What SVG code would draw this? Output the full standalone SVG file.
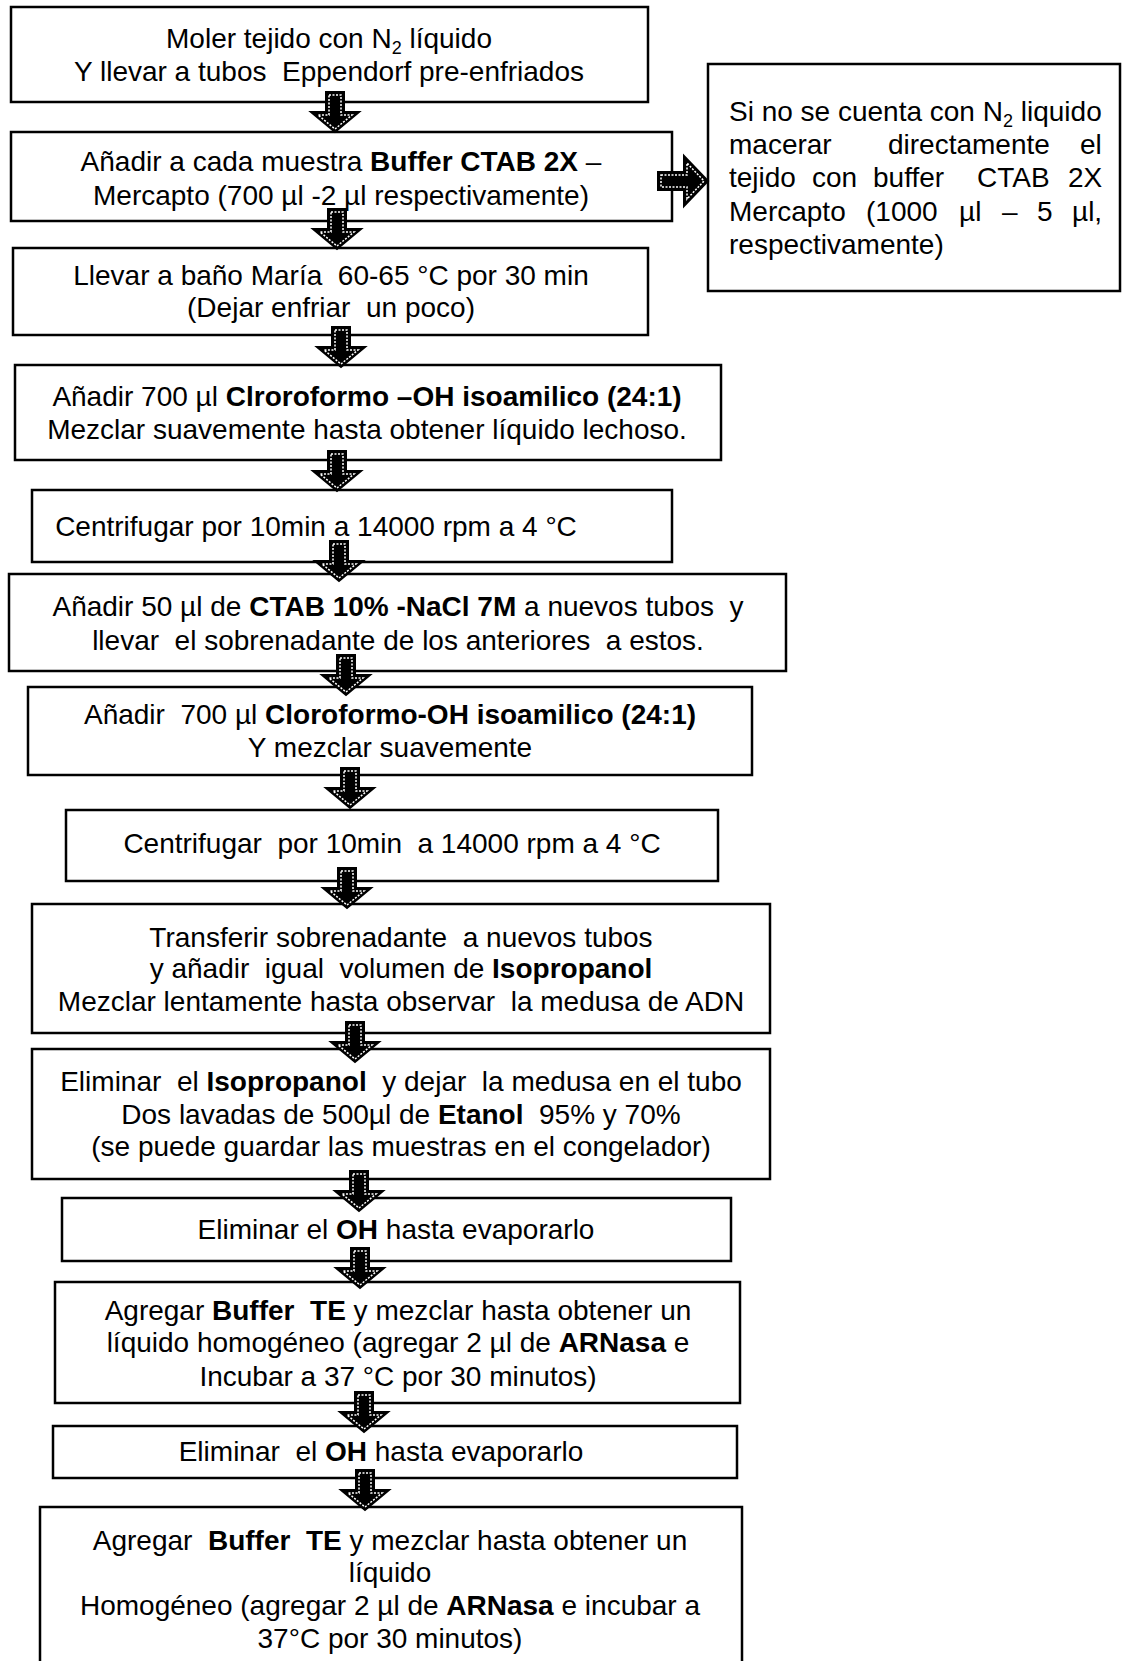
<svg xmlns="http://www.w3.org/2000/svg" width="1122" height="1661" viewBox="0 0 1122 1661">
<style>
  .box { fill: #ffffff; stroke: #000000; stroke-width: 2.5; }
  .t { font-family: "Liberation Sans", Arial, sans-serif; font-size: 28px; fill: #000000; text-anchor: middle; white-space: pre; }
  .s { font-family: "Liberation Sans", Arial, sans-serif; font-size: 28px; fill: #000000; white-space: pre; }
  .b { font-weight: bold; }
  .arw { fill: #000000; stroke: #000000; stroke-width: 2; stroke-linejoin: miter; }
  .arwi { fill: none; stroke: #ffffff; stroke-width: 1.5; stroke-dasharray: 2 1.5; }
</style>
<defs>
  <g id="dn">
    <polygon class="arw" points="-9,0 9,0 9,20 24,20 0,40 -24,20 -9,20"/>
    <polygon class="arwi" points="-6,3 6,3 6,23 17,23 0,37 -17,23 -6,23"/>
  </g>
  <g id="rt">
    <polygon class="arw" points="0,-9 26,-9 26,-25 50,0 26,25 26,9 0,9"/>
    <polygon class="arwi" points="3,-6 29,-6 29,-18 46,0 29,18 29,6 3,6"/>
  </g>
</defs>
<rect width="1122" height="1661" fill="#ffffff"/>

<g id="n1">
  <rect class="box" x="11" y="7" width="637" height="95"/>
  <text class="t" x="329" y="48">Moler tejido con N<tspan font-size="18" dy="6">2</tspan><tspan dy="-6"> líquido</tspan></text>
  <text class="t" x="329" y="81" xml:space="preserve">Y llevar a tubos  Eppendorf pre-enfriados</text>
</g>
<g id="n2">
  <rect class="box" x="11" y="132" width="661" height="89"/>
  <text class="t" x="341" y="171">Añadir a cada muestra <tspan class="b">Buffer CTAB 2X</tspan> –</text>
  <text class="t" x="341" y="205">Mercapto (700 µl -2 µl respectivamente)</text>
</g>
<g id="side">
  <rect class="box" x="708" y="64" width="412" height="227"/>
  <text class="s" x="729" y="121">Si no se cuenta con N<tspan font-size="18" dy="6">2</tspan><tspan dy="-6"> liquido</tspan></text>
  <text class="s" y="154"><tspan x="729">macerar</tspan><tspan x="888">directamente</tspan><tspan x="1080">el</tspan></text>
  <text class="s" y="187"><tspan x="729">tejido</tspan><tspan x="812">con</tspan><tspan x="873">buffer</tspan><tspan x="977">CTAB</tspan><tspan x="1068">2X</tspan></text>
  <text class="s" y="221"><tspan x="729">Mercapto</tspan><tspan x="866">(1000</tspan><tspan x="959">µl</tspan><tspan x="1002">–</tspan><tspan x="1037">5</tspan><tspan x="1072">µl,</tspan></text>
  <text class="s" x="729" y="254">respectivamente)</text>
</g>
<g id="n3">
  <rect class="box" x="13" y="248" width="635" height="87"/>
  <text class="t" x="331" y="285" xml:space="preserve">Llevar a baño María  60-65 °C por 30 min</text>
  <text class="t" x="331" y="317" xml:space="preserve">(Dejar enfriar  un poco)</text>
</g>
<g id="n4">
  <rect class="box" x="15" y="365" width="706" height="95"/>
  <text class="t" x="367" y="406">Añadir 700 µl <tspan class="b">Clroroformo –OH isoamilico (24:1)</tspan></text>
  <text class="t" x="367" y="439">Mezclar suavemente hasta obtener líquido lechoso.</text>
</g>
<g id="n5">
  <rect class="box" x="32" y="490" width="640" height="72"/>
  <text class="t" x="316" y="536">Centrifugar por 10min a 14000 rpm a 4 °C</text>
</g>
<g id="n6">
  <rect class="box" x="9" y="574" width="777" height="97"/>
  <text class="t" x="398" y="616" xml:space="preserve">Añadir 50 µl de <tspan class="b">CTAB 10% -NaCl 7M</tspan> a nuevos tubos  y</text>
  <text class="t" x="398" y="650" xml:space="preserve">llevar  el sobrenadante de los anteriores  a estos.</text>
</g>
<g id="n7">
  <rect class="box" x="28" y="687" width="724" height="88"/>
  <text class="t" x="390" y="724" xml:space="preserve">Añadir  700 µl <tspan class="b">Cloroformo-OH isoamilico (24:1)</tspan></text>
  <text class="t" x="390" y="757">Y mezclar suavemente</text>
</g>
<g id="n8">
  <rect class="box" x="66" y="810" width="652" height="71"/>
  <text class="t" x="392" y="853" xml:space="preserve">Centrifugar  por 10min  a 14000 rpm a 4 °C</text>
</g>
<g id="n9">
  <rect class="box" x="32" y="904" width="738" height="129"/>
  <text class="t" x="401" y="947" xml:space="preserve">Transferir sobrenadante  a nuevos tubos</text>
  <text class="t" x="401" y="978" xml:space="preserve">y añadir  igual  volumen de <tspan class="b">Isopropanol</tspan></text>
  <text class="t" x="401" y="1011" xml:space="preserve">Mezclar lentamente hasta observar  la medusa de ADN</text>
</g>
<g id="n10">
  <rect class="box" x="32" y="1049" width="738" height="130"/>
  <text class="t" x="401" y="1091" xml:space="preserve">Eliminar  el <tspan class="b">Isopropanol</tspan>  y dejar  la medusa en el tubo</text>
  <text class="t" x="401" y="1124" xml:space="preserve">Dos lavadas de 500µl de <tspan class="b">Etanol</tspan>  95% y 70%</text>
  <text class="t" x="401" y="1156">(se puede guardar las muestras en el congelador)</text>
</g>
<g id="n11">
  <rect class="box" x="62" y="1198" width="669" height="63"/>
  <text class="t" x="396" y="1239">Eliminar el <tspan class="b">OH</tspan> hasta evaporarlo</text>
</g>
<g id="n12">
  <rect class="box" x="55" y="1282" width="685" height="121"/>
  <text class="t" x="398" y="1320" xml:space="preserve">Agregar <tspan class="b">Buffer  TE</tspan> y mezclar hasta obtener un</text>
  <text class="t" x="398" y="1352">líquido homogéneo (agregar 2 µl de <tspan class="b">ARNasa</tspan> e</text>
  <text class="t" x="398" y="1386">Incubar a 37 °C por 30 minutos)</text>
</g>
<g id="n13">
  <rect class="box" x="53" y="1426" width="684" height="52"/>
  <text class="t" x="381" y="1461" xml:space="preserve">Eliminar  el <tspan class="b">OH</tspan> hasta evaporarlo</text>
</g>
<g id="n14">
  <rect class="box" x="40" y="1507" width="702" height="170"/>
  <text class="t" x="390" y="1550" xml:space="preserve">Agregar  <tspan class="b">Buffer  TE</tspan> y mezclar hasta obtener un</text>
  <text class="t" x="390" y="1582">líquido</text>
  <text class="t" x="390" y="1615">Homogéneo (agregar 2 µl de <tspan class="b">ARNasa</tspan> e incubar a</text>
  <text class="t" x="390" y="1648">37°C por 30 minutos)</text>
</g>

<g id="connectors">
  <use href="#dn" transform="translate(335,92)"/>
  <use href="#dn" transform="translate(337,209)"/>
  <use href="#dn" transform="translate(341,327)"/>
  <use href="#dn" transform="translate(337,451)"/>
  <use href="#dn" transform="translate(339,541)"/>
  <use href="#dn" transform="translate(346,655)"/>
  <use href="#dn" transform="translate(350,768)"/>
  <use href="#dn" transform="translate(347,868)"/>
  <use href="#dn" transform="translate(355,1022)"/>
  <use href="#dn" transform="translate(359,1171)"/>
  <use href="#dn" transform="translate(360,1248)"/>
  <use href="#dn" transform="translate(364,1392)"/>
  <use href="#dn" transform="translate(365,1470)"/>
  <use href="#rt" transform="translate(658,181)"/>
</g>
</svg>
